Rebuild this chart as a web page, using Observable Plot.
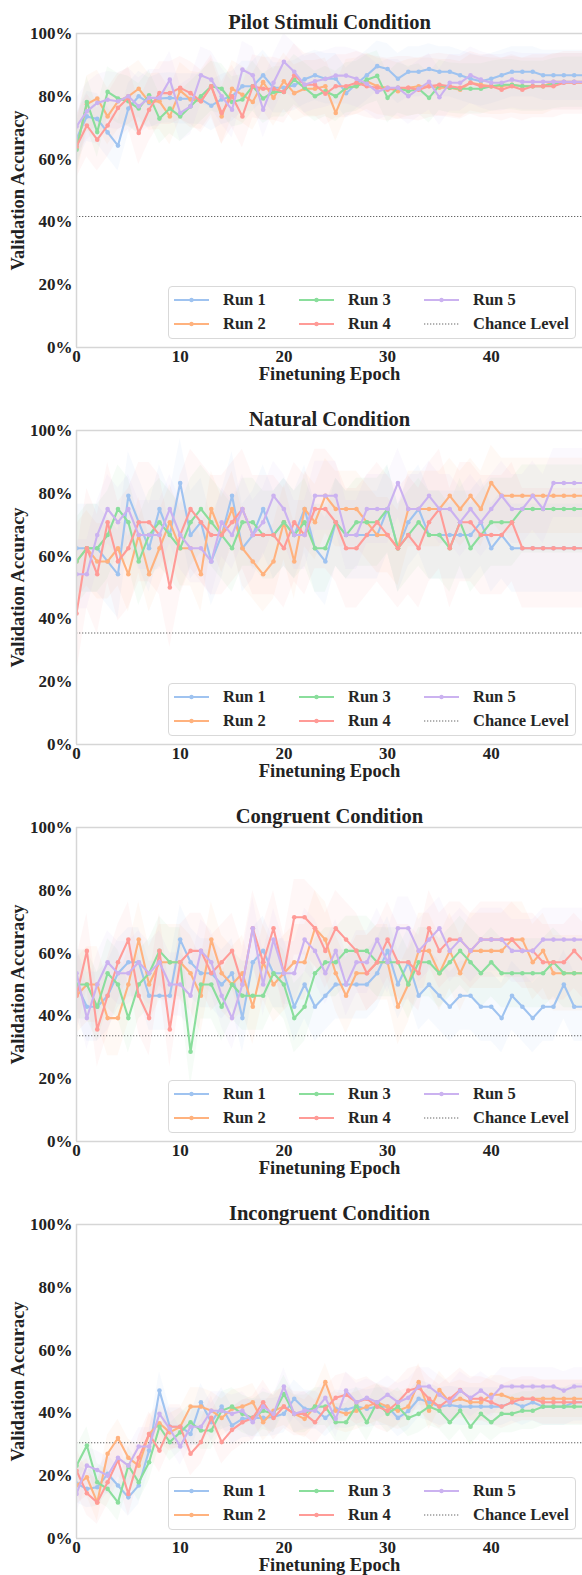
<!DOCTYPE html>
<html><head><meta charset="utf-8">
<script src="https://cdn.jsdelivr.net/npm/d3@7"></script>
<script src="https://cdn.jsdelivr.net/npm/@observablehq/plot@0.6"></script>
<style>
body{margin:0;background:#fff;}
.panel{position:relative;width:582px;height:397px;overflow:hidden;}
.legend{position:absolute;left:168px;top:286px;width:408px;height:53px;box-sizing:border-box;border:1px solid #d9d9d9;border-radius:4px;background:rgba(255,255,255,0.85);font-family:"Liberation Serif","Times New Roman",serif;font-weight:bold;font-size:16.5px;color:#262626;}
.item{position:absolute;display:flex;align-items:center;height:20px;white-space:nowrap;}
.item span{margin-left:14px;}
</style></head><body><div id="chart"></div><script>
const epochs = d3.range(50);
const runNames = ["Run 1","Run 2","Run 3","Run 4","Run 5"];
const runColors = ["#9fc3f0","#ffb27e","#8ade9c","#ff9b97","#cbb2f0"];
const titles = ["Pilot Stimuli Condition","Natural Condition","Congruent Condition","Incongruent Condition"];
const yTicks = [0,20,40,60,80,100];
const xTicks = [0,10,20,30,40];
const chanceLevels = [41.7, 35.5, 33.7, 30.5];

// Pilot Stimuli Condition
const pilotRun1 = [66.5,73.6,72.8,68.5,64.3,76.1,80,77.9,79.3,79.5,79.2,79.2,79,77,79,80,83.2,83.2,86.7,82.7,82.7,83.5,85.4,86.7,85.6,85.6,81,84,86.7,89.6,88.7,85.6,87.8,87.8,88.7,87.8,87.8,86.7,85.6,84.8,85.6,86.7,87.8,87.8,87.8,86.7,86.7,86.7,86.7,86.7];
const pilotRun2 = [63.5,77.5,79.3,73.6,78.4,80,82.4,78.2,78.4,73.6,81.8,79,78.4,83.2,73.6,82.4,80.5,78.2,84.5,79.5,84.8,81,82.4,82.4,83.2,74.7,82.7,83.2,84.8,83.2,82.7,81.6,82.7,83.2,83.2,82.7,82.7,82.1,84.3,83.7,83.2,83.2,83.7,83.2,83.2,83.2,84.6,84.6,84.6,84.6];
const pilotRun3 = [63,78.2,68.6,81.4,79.3,78.4,76.1,80.3,72.9,76.1,73.6,76.8,80,83.2,82.4,78.2,79,83.2,79.3,81.4,81.4,85.3,82.7,80,81.6,80,82.7,83.2,85.3,86.5,79.5,82.7,81.6,82.4,79.5,83.5,82.7,82.4,82.4,82.4,83.2,83.7,83.7,83.2,83.2,83.2,84,84.5,84.5,84.5];
const pilotRun4 = [64,70.7,66.2,70.7,76.3,79.5,68.3,75.7,81,81,82.7,81,78.4,83.2,74.7,80,73.6,83.2,82.4,82.4,81.4,86.7,83.7,83.7,80.8,83.2,83.2,84.3,83.2,82.7,82.1,82.7,82.7,82.1,83.2,83.7,83.2,82.7,84.3,83.2,83.2,82.1,83.2,82.1,83.2,83.2,83.2,84.3,84.3,84.3];
const pilotRun5 = [70.4,75.2,77.9,78.9,78.4,80,76.8,79.5,79.5,85.3,74.7,76.8,86.7,85.3,80,75.7,88.5,86.7,75.7,84.3,91,87.8,83.7,84.8,85.5,86.6,86.6,85.6,84,81.4,82.7,82.7,80,82.4,84.6,79.7,84.3,84.3,86.7,85.3,84.3,84.3,85.3,84.6,84.6,84.6,84.6,84.6,84.6,84.6];
const pilotSpread = [8, 9, 8, 10, 9];

// Natural Condition
const naturalRun1 = [62.5,62.5,62.5,58.3,54.2,79.2,70.8,62.5,75,66.7,83.3,66.7,70.8,58.3,66.7,79.2,62.5,66.7,75,66.7,70.8,66.7,75,62.5,58.3,70.8,66.7,66.7,66.7,66.7,75,62.5,70.8,75,66.7,66.7,66.7,66.7,66.7,70.8,62.5,66.7,62.5,62.5,62.5,62.5,62.5,62.5,62.5,62.5];
const naturalRun2 = [58.3,62.5,58.3,58.3,62.5,54.2,66.7,54.2,62.5,70.8,62.5,62.5,54.2,75,66.7,75,62.5,58.3,54.2,58.3,70.8,58.3,75,70.8,79.2,75,75,75,70.8,66.7,66.7,62.5,75,75,75,75,79.2,75,79.2,75,83.3,79.2,79.2,79.2,79.2,79.2,79.2,79.2,79.2,79.2];
const naturalRun3 = [58.3,62.5,62.5,66.7,75,70.8,58.3,66.7,70.8,66.7,62.5,70.8,75,70.8,66.7,62.5,70.8,70.8,66.7,66.7,70.8,66.7,70.8,62.5,62.5,70.8,66.7,70.8,70.8,70.8,75,62.5,66.7,70.8,66.7,66.7,62.5,70.8,62.5,66.7,70.8,70.8,70.8,75,75,75,75,75,75,75];
const naturalRun4 = [41.7,62.5,54.2,70.8,58.3,62.5,70.8,70.8,66.7,50,66.7,75,70.8,66.7,66.7,70.8,75,66.7,66.7,66.7,62.5,70.8,66.7,75,75,70.8,62.5,62.5,66.7,70.8,66.7,62.5,66.7,62.5,70.8,75,62.5,70.8,70.8,66.7,66.7,66.7,70.8,62.5,62.5,62.5,62.5,62.5,62.5,62.5];
const naturalRun5 = [54.2,54.2,66.7,75,70.8,75,66.7,66.7,66.7,75,66.7,62.5,62.5,58.3,70.8,66.7,75,66.7,70.8,79.2,75,66.7,66.7,79.2,79.2,79.2,66.7,66.7,75,75,75,83.3,75,75,79.2,75,75,70.8,75,70.8,75,79.2,75,75,79.2,75,83.3,83.3,83.3,83.3];
const naturalSpread = [14, 12, 14, 19, 11];

// Congruent Condition
const congruentRun1 = [50,42.9,42.9,46.4,53.6,57.1,57.1,46.4,46.4,46.4,64.3,57.1,53.6,53.6,50,53.6,39.3,57.1,60.7,53.6,53.6,42.9,50,42.9,46.4,50,50,50,50,53.6,60.7,50,57.1,46.4,50,46.4,42.9,46.4,46.4,42.9,42.9,39.3,46.4,42.9,39.3,42.9,42.9,50,42.9,42.9];
const congruentRun2 = [46.4,50,50,39.3,39.3,50,64.3,50,57.1,57.1,57.1,53.6,46.4,64.3,53.6,50,53.6,42.9,57.1,50,53.6,57.1,57.1,67.9,64.3,53.6,46.4,53.6,53.6,57.1,57.1,42.9,50,60.7,60.7,53.6,60.7,53.6,60.7,60.7,60.7,60.7,64.3,64.3,57.1,60.7,53.6,53.6,53.6,53.6];
const congruentRun3 = [50,50,42.9,53.6,50,39.3,50,53.6,60.7,57.1,57.1,28.6,50,50,42.9,50,46.4,46.4,46.4,53.6,50,39.3,42.9,53.6,57.1,57.1,60.7,60.7,60.7,57.1,57.1,57.1,50,57.1,57.1,53.6,57.1,60.7,57.1,53.6,57.1,53.6,53.6,53.6,53.6,53.6,57.1,53.6,53.6,53.6];
const congruentRun4 = [46.4,60.7,35.7,46.4,57.1,64.3,46.4,39.3,60.7,35.7,57.1,60.7,60.7,53.6,57.1,60.7,50,67.9,57.1,67.9,53.6,71.4,71.4,67.9,60.7,67.9,64.3,60.7,53.6,57.1,64.3,57.1,57.1,53.6,67.9,60.7,64.3,64.3,60.7,64.3,64.3,64.3,64.3,60.7,60.7,57.1,57.1,57.1,60.7,57.1];
const congruentRun5 = [53.6,39.3,50,57.1,53.6,53.6,57.1,53.6,57.1,50,50,46.4,60.7,57.1,46.4,39.3,50,67.9,50,64.3,53.6,53.6,64.3,60.7,53.6,60.7,50,57.1,57.1,64.3,57.1,67.9,67.9,60.7,64.3,67.9,60.7,64.3,60.7,64.3,64.3,64.3,60.7,60.7,60.7,64.3,64.3,64.3,64.3,64.3];
const congruentSpread = [11, 12, 11, 12, 10];

// Incongruent Condition
const incongruentRun1 = [17.5,15.8,16.3,20.6,16.9,13.1,16.9,28,47.1,35.6,35.6,33.3,43.4,37,42,36,38.1,38.4,38.4,38.7,39.7,44.5,41.3,41,38.4,41.3,41,42,41.3,42,42,38.4,40.6,44.5,43.4,42,42.5,42,42,42,42,42,43.4,42,43.4,42,42,42,43.4,43.4];
const incongruentRun2 = [16.9,19.5,11.5,27,32,25.7,23.2,33.3,36.7,33.8,35.6,42,42,40.7,38.4,41.3,42,43.4,37,40.7,42,39.7,38.1,42,49.8,40.7,39.7,40.7,42,43.4,42,40.7,42,49.8,40.7,47.3,43.4,44.5,43.4,43.4,45.8,45.8,44.5,44.5,44.5,44.5,44.5,44.5,44.5,44.5];
const incongruentRun3 = [23.2,29.6,17.9,15.8,11.5,23.2,17.9,24.3,35.6,30.7,33.8,37,34.4,34.4,40.7,42,39.7,38.4,40.7,39.7,46,39.7,39.7,42,42,37,37,42.3,37,43.4,39.7,42,38.4,39.7,42,40.7,37,40.7,35.6,39.7,37,39.7,39.7,40.7,40.7,42,42,42,42,42];
const incongruentRun4 = [21.6,14.4,11.5,17.9,25,14.2,25.7,33.3,28,35.6,35.6,27,30.7,38.4,30.7,34.6,37,38.4,43.4,38.4,42,39.7,39.7,37,41.3,44.8,45.8,43.4,44.5,42,40.7,43.4,47.1,48,44.5,42,44.5,47.3,44.5,44.5,43.4,42,43.4,44.5,44.5,43.4,43.4,43.4,43.4,43.4];
const incongruentRun5 = [14.2,23.2,21.8,20,25.7,23.2,29.3,29.3,39.7,34.9,29.3,35.6,35.6,40.7,40.7,39.7,40.7,37,42,39.7,48.4,39.7,40.7,40.7,44.8,38.1,47.1,43.4,44.8,43.4,45.8,43.4,44.8,48.4,48.4,45.8,43.4,47.1,44.8,47.1,44.8,48.4,48.4,48.4,48.4,48.4,48.4,47.1,48.4,48.4];
const incongruentSpread = [6, 6, 6, 7, 6];

const panels = [
  {runs:[pilotRun1,pilotRun2,pilotRun3,pilotRun4,pilotRun5], spread:pilotSpread},
  {runs:[naturalRun1,naturalRun2,naturalRun3,naturalRun4,naturalRun5], spread:naturalSpread},
  {runs:[congruentRun1,congruentRun2,congruentRun3,congruentRun4,congruentRun5], spread:congruentSpread},
  {runs:[incongruentRun1,incongruentRun2,incongruentRun3,incongruentRun4,incongruentRun5], spread:incongruentSpread}
];

const FONT = '"Liberation Serif","Times New Roman",serif';
const INK = "#222";
const SPINE = "#d6d6d6";

function makePanel(p, idx) {
  const series = p.runs.map((vals, r) => vals.map((v, i) => ({epoch: epochs[i], v, run: runNames[r]})));
  const marks = [];
  series.forEach((data, r) => {
    marks.push(Plot.areaY(data, {x: "epoch", y1: d => d.v - p.spread[r], y2: d => d.v + p.spread[r], fill: runColors[r], fillOpacity: 0.08, clip: true}));
  });
  marks.push(Plot.ruleY([chanceLevels[idx]], {stroke: "#666", strokeWidth: 1.1, strokeDasharray: "1.3,1.7", clip: true}));
  series.forEach((data, r) => {
    marks.push(Plot.line(data, {x: "epoch", y: "v", stroke: runColors[r], strokeWidth: 2.1, clip: true}));
    marks.push(Plot.dot(data, {x: "epoch", y: "v", r: 2.3, fill: runColors[r], clip: true}));
  });
  marks.push(Plot.ruleY([0, 100], {stroke: SPINE, strokeWidth: 1.5}));
  marks.push(Plot.ruleX([0], {stroke: SPINE, strokeWidth: 1.5}));
  marks.push(Plot.axisY({ticks: yTicks, tickFormat: d => d + "%", tickSize: 0, tickPadding: 4, label: null, fontSize: 17, fontWeight: "bold"}));
  marks.push(Plot.axisX({ticks: xTicks, tickFormat: d => String(d), tickSize: 0, tickPadding: 2, label: null, fontSize: 17, fontWeight: "bold"}));
  marks.push(Plot.text([titles[idx]], {frameAnchor: "top", dy: -11, fontSize: 20.5, fontWeight: "bold", fill: INK, lineAnchor: "middle"}));
  marks.push(Plot.text(["Finetuning Epoch"], {frameAnchor: "bottom", dy: 27, fontSize: 18.5, fontWeight: "bold", fill: INK, lineAnchor: "middle"}));
  marks.push(Plot.text(["Validation Accuracy"], {frameAnchor: "left", dx: -58, rotate: -90, fontSize: 18.5, fontWeight: "bold", fill: INK, lineAnchor: "middle", textAnchor: "middle"}));

  const svg = Plot.plot({
    width: 582, height: 397,
    marginLeft: 76, marginRight: 0, marginTop: 33, marginBottom: 50,
    x: {domain: [0, 48.8]},
    y: {domain: [0, 100]},
    style: {fontFamily: FONT, fontWeight: "bold", fontSize: "17px", color: INK, background: "transparent", overflow: "visible"},
    marks
  });

  const div = document.createElement("div");
  div.className = "panel";
  div.appendChild(svg);

  const legend = document.createElement("div");
  legend.className = "legend";
  const items = runNames.map((n, r) => ({label: n, color: runColors[r], chance: false}));
  items.push({label: "Chance Level", color: "#666", chance: true});
  const colLeft = [5, 130, 255];
  const rowTop = [3, 27];
  items.forEach((it, i) => {
    const el = document.createElement("div");
    el.className = "item";
    el.style.left = colLeft[Math.floor(i / 2)] + "px";
    el.style.top = rowTop[i % 2] + "px";
    const handle = it.chance
      ? `<svg width="35" height="20"><line x1="0" x2="35" y1="10" y2="10" stroke="${it.color}" stroke-width="1.1" stroke-dasharray="1.3,1.7"/></svg>`
      : `<svg width="35" height="20"><line x1="0" x2="35" y1="10" y2="10" stroke="${it.color}" stroke-width="2.2"/><circle cx="17.5" cy="10" r="2.2" fill="${it.color}"/></svg>`;
    el.innerHTML = handle + `<span>${it.label}</span>`;
    legend.appendChild(el);
  });
  div.appendChild(legend);
  return div;
}

const chart = document.getElementById("chart");
panels.forEach((p, i) => chart.appendChild(makePanel(p, i)));
</script></body></html>
